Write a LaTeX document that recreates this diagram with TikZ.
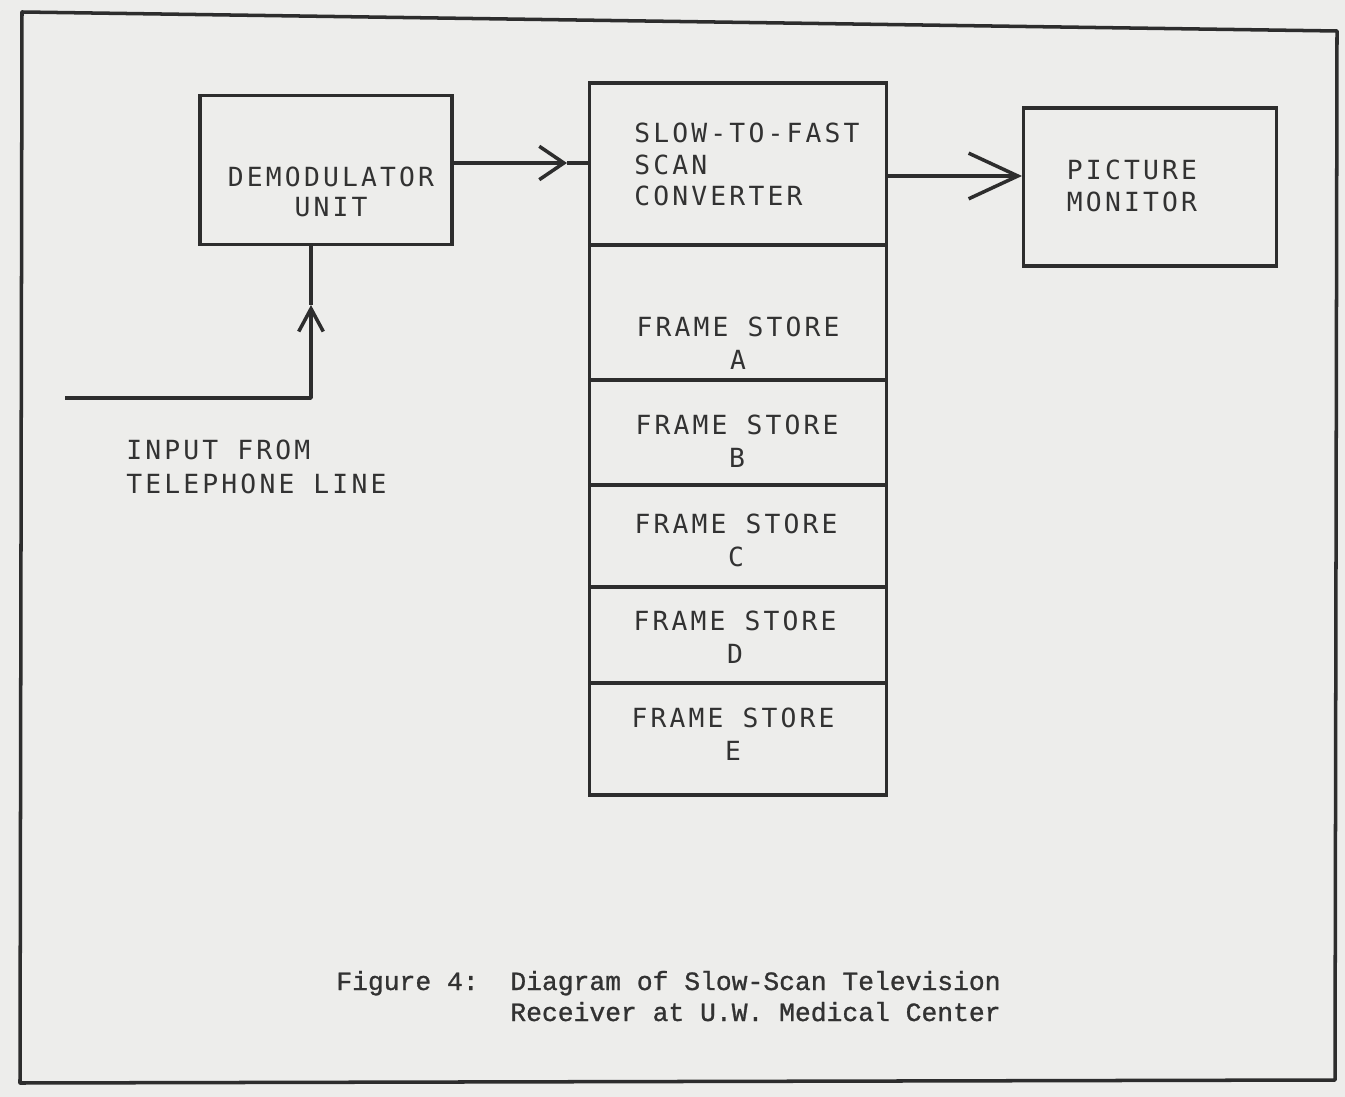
\documentclass[tikz,border=0pt]{standalone}
\usepackage{fontspec}
\usetikzlibrary{arrows.meta}
\newfontfamily\diagfont[LetterSpace=12]{DejaVu Sans Mono}
\newfontfamily\capfont[FakeBold=1]{Liberation Mono}
\definecolor{paper}{RGB}{237,237,235}
\definecolor{ink}{RGB}{45,45,45}
\definecolor{textink}{RGB}{50,50,50}
\tikzset{
  box/.style={draw=ink, line width=2pt, rectangle, inner sep=0pt},
  lbl/.style={text=textink, font=\diagfont\fontsize{15pt}{18.7pt}\selectfont, inner sep=0pt, align=center},
  lblleft/.style={lbl, align=left},
  wire/.style={draw=ink, line width=2pt},
  captext/.style={text=textink, font=\capfont\fontsize{15pt}{17pt}\selectfont, inner sep=0pt, anchor=base west},
  barbA/.tip={Straight Barb[length=14pt, width=19pt, line width=2pt]},
  barbB/.tip={Straight Barb[length=28pt, width=26pt, line width=2pt]},
  barbC/.tip={Straight Barb[length=13pt, width=14pt, line width=2pt]}
}
\begin{document}
\begin{tikzpicture}[x=0.02cm, y=-0.02cm]
\fill[paper] (0,0) rectangle (1345,1097);
% outer frame
\draw[ink, line width=2pt, line join=round] (22,12) -- (1337,31) -- (1335,1080) -- (20,1083) -- cycle;

% blocks
\node[box, minimum width=5.04cm, minimum height=2.98cm] (demod) at (326,170) {};
\node[box, minimum width=5.06cm, minimum height=3.16cm] (monitor) at (1150,187) {};
\node[box, minimum width=5.94cm, minimum height=3.24cm] (conv) at (738,164) {};
\node[box, minimum width=5.94cm, minimum height=2.70cm] (fsA) at (738,312.5) {};
\node[box, minimum width=5.94cm, minimum height=2.10cm] (fsB) at (738,432.5) {};
\node[box, minimum width=5.94cm, minimum height=2.04cm] (fsC) at (738,536) {};
\node[box, minimum width=5.94cm, minimum height=1.92cm] (fsD) at (738,635) {};
\node[box, minimum width=5.94cm, minimum height=2.24cm] (fsE) at (738,739) {};

% labels
\node[lbl, font=\diagfont\fontsize{15pt}{17pt}\selectfont] (tdemod) at (331,192) {DEMODULATOR\\UNIT};
\node[lbl, font=\diagfont\fontsize{15pt}{18pt}\selectfont] (tmon) at (1132,186) {PICTURE\\MONITOR};
\node[lblleft, anchor=west, font=\diagfont\fontsize{15pt}{17.9pt}\selectfont] (tconv) at (634,164.5) {SLOW-TO-FAST\\SCAN\\CONVERTER};
\node[lbl] (tA) at (738,343) {FRAME STORE\\A};
\node[lbl] (tB) at (737,441) {FRAME STORE\\B};
\node[lbl] (tC) at (736,540) {FRAME STORE\\C};
\node[lbl] (tD) at (735,637) {FRAME STORE\\D};
\node[lbl] (tE) at (733,734) {FRAME STORE\\E};
\node[lblleft, anchor=west, font=\diagfont\fontsize{15pt}{19.8pt}\selectfont] (tin) at (126,467) {INPUT FROM\\TELEPHONE LINE};

% connectors
\coordinate (tip1) at (567,163);
\draw[wire, -{barbA}] (demod.east |- tip1) -- (tip1);
\draw[wire] (tip1) -- (conv.west |- tip1);

\coordinate (tip2) at (1022,176);
\draw[wire, -{barbB}] (conv.east |- tip2) -- (tip2);
\draw[wire] (tip2) -- (monitor.west |- tip2);

\coordinate (inStart) at (65,398);
\coordinate (inCorner) at (311,398);
\coordinate (tip3) at (311,305);
\draw[wire, line join=round, -{barbC}] (inStart) -- (inCorner) -- (tip3);
\draw[wire] (tip3) -- (demod.south -| tip3);

% caption
\node[captext] (cap1) at (336,990) {Figure 4:};
\node[captext] (cap2) at (510,990) {Diagram of Slow-Scan Television};
\node[captext] (cap3) at (510,1021) {Receiver at U.W. Medical Center};
\end{tikzpicture}
\end{document}
